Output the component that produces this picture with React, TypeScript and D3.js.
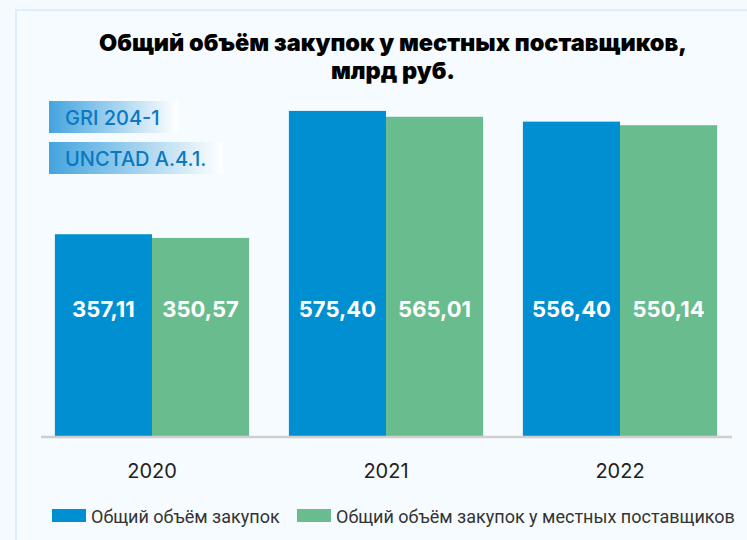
import { useEffect, useRef } from 'react';
import * as d3 from 'd3';

const years = ['2020', '2021', '2022'];
const totalPurchases = [357.11, 575.4, 556.4];
const localPurchases = [350.57, 565.01, 550.14];
const seriesNames = ['Общий объём закупок', 'Общий объём закупок у местных поставщиков'];
const badges = ['GRI 204-1', 'UNCTAD A.4.1.'];
const titleLines = ['Общий объём закупок у местных поставщиков,', 'млрд руб.'];

const colors = ['#0090d1', '#69bc8d'];

export default function App() {
  const svgRef = useRef<SVGSVGElement>(null);

  useEffect(() => {
    const svg = d3.select(svgRef.current);
    svg.selectAll('*').remove();

    const width = 747;
    const height = 540;
    const baseY = 436;

    svg.append('rect').attr('width', width).attr('height', height).attr('fill', '#f5faff');

    // light frame around the card
    svg.append('rect')
      .attr('x', 16).attr('y', 10)
      .attr('width', width).attr('height', height)
      .attr('fill', '#f6fbff')
      .attr('stroke', '#deedfb')
      .attr('stroke-width', 2);

    // title
    svg.append('g')
      .selectAll('text')
      .data(titleLines)
      .join('text')
      .attr('x', 393)
      .attr('y', (d, i) => 51 + i * 28)
      .attr('text-anchor', 'middle')
      .style('font-family', 'Inter, sans-serif')
      .style('font-weight', 900)
      .style('font-size', '23.5px')
      .attr('fill', '#000')
      .text(d => d);

    // badges
    const grad = svg.append('defs').append('linearGradient').attr('id', 'badgeGrad');
    grad.append('stop').attr('offset', '0%').attr('stop-color', '#43a4de');
    grad.append('stop').attr('offset', '100%').attr('stop-color', '#ffffff');

    const badgeWidths = [129, 174];
    const badge = svg.append('g')
      .selectAll('g')
      .data(badges)
      .join('g')
      .attr('transform', (d, i) => `translate(49,${101 + i * 41})`);
    badge.append('rect')
      .attr('width', (d, i) => badgeWidths[i])
      .attr('height', 32)
      .attr('fill', 'url(#badgeGrad)');
    badge.append('text')
      .attr('x', 16)
      .attr('y', 24)
      .style('font-family', 'Inter, sans-serif')
      .style('font-weight', 500)
      .style('font-size', '20px')
      .attr('fill', '#0a78c2')
      .text(d => d);

    // scales
    const x = d3.scaleBand()
      .domain(years)
      .range([35, 737])
      .paddingInner(0.17)
      .paddingOuter(0.085);

    const xSub = d3.scaleBand()
      .domain(['0', '1'])
      .range([0, x.bandwidth()]);

    const y = d3.scaleLinear()
      .domain([0, 600])
      .range([baseY, 97]);

    const series = [totalPurchases, localPurchases];

    const groups = svg.append('g')
      .selectAll('g')
      .data(years)
      .join('g')
      .attr('transform', d => `translate(${x(d)},0)`);

    groups.selectAll('rect')
      .data((d, i) => series.map((s, k) => ({ k, v: s[i] })))
      .join('rect')
      .attr('x', d => xSub(String(d.k))!)
      .attr('y', d => y(d.v))
      .attr('width', xSub.bandwidth())
      .attr('height', d => baseY - y(d.v))
      .attr('fill', d => colors[d.k]);

    groups.selectAll('text.val')
      .data((d, i) => series.map((s, k) => ({ k, v: s[i] })))
      .join('text')
      .attr('class', 'val')
      .attr('x', d => xSub(String(d.k))! + xSub.bandwidth() / 2)
      .attr('y', 317)
      .attr('text-anchor', 'middle')
      .style('font-family', 'Inter, sans-serif')
      .style('font-weight', 700)
      .style('font-size', '22px')
      .attr('fill', '#fff')
      .text(d => d.v.toFixed(2).replace('.', ','));

    // baseline
    svg.append('line')
      .attr('x1', 41).attr('x2', 732)
      .attr('y1', baseY + 1).attr('y2', baseY + 1)
      .attr('stroke', '#cfcfcf')
      .attr('stroke-width', 2.5);

    // year labels
    const xAxis = svg.append('g')
      .attr('transform', `translate(0,${baseY})`)
      .call(d3.axisBottom(x).tickSize(0).tickPadding(28));
    xAxis.select('.domain').remove();
    xAxis.selectAll('text')
      .style('font-family', 'Inter, sans-serif')
      .style('font-size', '20px')
      .attr('fill', '#222');

    // legend
    const legendX = [52, 297];
    const legend = svg.append('g')
      .selectAll('g')
      .data(seriesNames)
      .join('g')
      .attr('transform', (d, i) => `translate(${legendX[i]},509)`);
    legend.append('rect')
      .attr('width', 34)
      .attr('height', 13)
      .attr('fill', (d, i) => colors[i]);
    legend.append('text')
      .attr('x', 39)
      .attr('y', 14)
      .style('font-family', 'Roboto, sans-serif')
      .style('font-size', '18px')
      .attr('fill', '#333')
      .text(d => d);
  }, []);

  return (
    <div style={{ position: 'absolute', top: 0, left: 0, width: 747, height: 540 }}>
      <svg ref={svgRef} width={747} height={540} style={{ display: 'block' }}></svg>
    </div>
  );
}
